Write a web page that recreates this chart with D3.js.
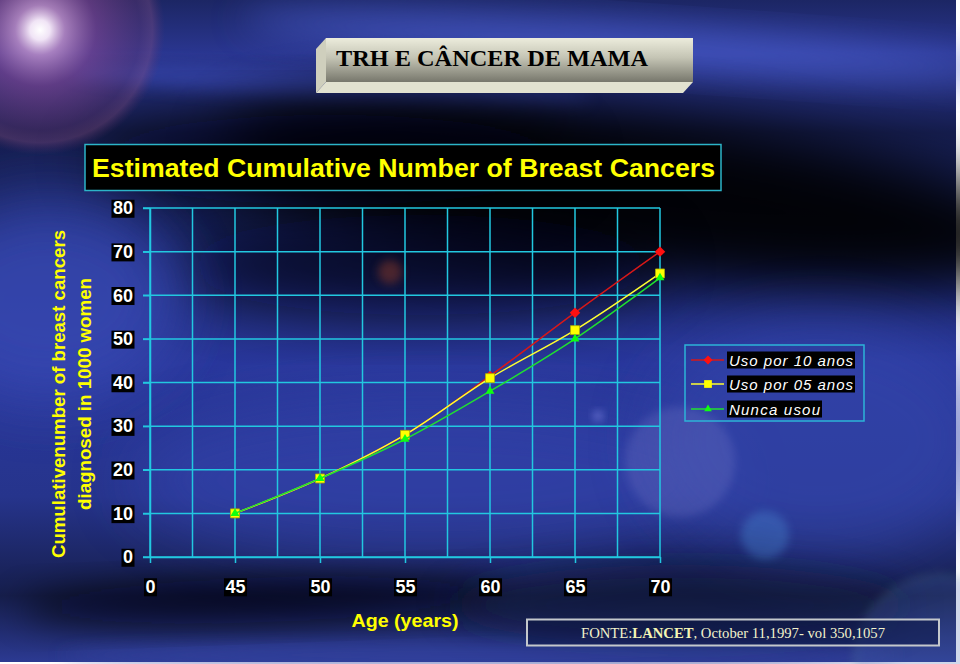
<!DOCTYPE html>
<html>
<head>
<meta charset="utf-8">
<script src="https://cdn.jsdelivr.net/npm/d3@7"></script>
<style>
  body { margin: 0; background: #fff; }
  svg { display: block; }
</style>
</head>
<body>
<div id="chart"></div>
<script>
// data
var ageLabels = ["0", "45", "50", "55", "60", "65", "70"];
var ages = ["45", "50", "55", "60", "65", "70"];
var uso10 = [10, 18, 28, 41.5, 56, 70];
var uso05 = [10, 18, 28, 41, 52, 65];
var nunca = [10, 18, 27, 38, 50, 64];
var seriesNames = ["Uso por 10 anos", "Uso por 05 anos", "Nunca usou"];
var yTicks = [0, 10, 20, 30, 40, 50, 60, 70, 80];

var svgWidth = 960, svgHeight = 664;
var svg = d3.select("#chart").append("svg")
    .attr("width", svgWidth)
    .attr("height", svgHeight);

var defs = svg.append("defs");
[["b30", 30], ["b18", 18], ["b8", 8], ["b4", 4]].forEach(function (f) {
    defs.append("filter").attr("id", f[0])
        .attr("x", "-50%").attr("y", "-50%").attr("width", "200%").attr("height", "200%")
        .append("feGaussianBlur").attr("stdDeviation", f[1]);
});

var bgGrad = defs.append("linearGradient").attr("id", "bg")
    .attr("x1", 0).attr("y1", 0).attr("x2", 0).attr("y2", 1);
[[0, "#1c2664"], [0.08, "#2a3690"], [0.2, "#161e50"], [0.35, "#1a2668"],
 [0.55, "#2a389c"], [0.75, "#26348c"], [0.9, "#161e4c"], [1, "#2c3a92"]]
    .forEach(function (s) { bgGrad.append("stop").attr("offset", s[0]).attr("stop-color", s[1]); });

var flare = defs.append("radialGradient").attr("id", "flare");
[[0, "#ffffff", 1], [0.08, "#fbeefc", 0.95], [0.2, "#d098d0", 0.75],
 [0.45, "#904890", 0.55], [0.8, "#703870", 0.35], [0.9, "#905080", 0.35], [1, "#6a3468", 0]]
    .forEach(function (s) {
        flare.append("stop").attr("offset", s[0]).attr("stop-color", s[1]).attr("stop-opacity", s[2]);
    });

var faceGrad = defs.append("linearGradient").attr("id", "face")
    .attr("x1", 0).attr("y1", 0).attr("x2", 0).attr("y2", 1);
[[0, "#ececdc"], [0.45, "#c4c4b4"], [1, "#77776c"]]
    .forEach(function (s) { faceGrad.append("stop").attr("offset", s[0]).attr("stop-color", s[1]); });

// background picture
var bg = svg.append("g");
bg.append("rect").attr("width", 956).attr("height", 662).attr("fill", "url(#bg)");
var blobs = [
    // cx, cy, rx, ry, rot, colour, opacity, filter
    [620, 45, 380, 22, 4, "#4c5fd0", 0.7, "b18"],
    [330, 85, 260, 14, 3, "#3a4cb8", 0.6, "b8"],
    [640, 195, 420, 80, 7, "#000000", 0.92, "b30"],
    [330, 160, 240, 45, 0, "#02040e", 0.75, "b30"],
    [420, 265, 240, 50, 0, "#02040e", 0.7, "b30"],
    [50, 300, 130, 100, 0, "#3848b4", 0.8, "b30"],
    [430, 480, 300, 80, 0, "#3444b0", 0.6, "b30"],
    [820, 440, 170, 120, 0, "#3646ae", 0.6, "b30"],
    [260, 600, 240, 22, -2, "#04060f", 0.75, "b18"],
    [680, 605, 230, 40, 0, "#0c1232", 0.55, "b18"],
    [480, 655, 420, 12, 0, "#3444a4", 0.6, "b8"]
];
blobs.forEach(function (b) {
    bg.append("ellipse")
        .attr("cx", b[0]).attr("cy", b[1]).attr("rx", b[2]).attr("ry", b[3])
        .attr("transform", "rotate(" + b[4] + "," + b[0] + "," + b[1] + ")")
        .attr("fill", b[5]).attr("opacity", b[6]).attr("filter", "url(#" + b[7] + ")");
});
bg.append("circle").attr("cx", 40).attr("cy", 30).attr("r", 125).attr("fill", "url(#flare)");
bg.append("circle").attr("cx", 680).attr("cy", 462).attr("r", 55)
    .attr("fill", "#8a8ad0").attr("opacity", 0.22).attr("filter", "url(#b4)");
bg.append("circle").attr("cx", 765).attr("cy", 535).attr("r", 24)
    .attr("fill", "#4c8ed8").attr("opacity", 0.35).attr("filter", "url(#b4)");
bg.append("circle").attr("cx", 940).attr("cy", 660).attr("r", 85)
    .attr("fill", "#4a68b0").attr("opacity", 0.25)
    .attr("stroke", "#70b098").attr("stroke-width", 5).attr("stroke-opacity", 0.5)
    .attr("filter", "url(#b4)");
bg.append("circle").attr("cx", 390).attr("cy", 272).attr("r", 12)
    .attr("fill", "#8a3a2a").attr("opacity", 0.5).attr("filter", "url(#b4)");
bg.append("circle").attr("cx", 598).attr("cy", 416).attr("r", 5)
    .attr("fill", "#a0a8ff").attr("opacity", 0.5).attr("filter", "url(#b4)");

// 3D title box
var tb = svg.append("g");
tb.append("polygon").attr("points", "326,38 316,49 316,93 326,82").attr("fill", "#cfcfbd");
tb.append("polygon").attr("points", "326,82 316,93 683,93 693,82").attr("fill", "#e2e2d0");
tb.append("rect").attr("x", 326).attr("y", 38).attr("width", 367).attr("height", 44)
    .attr("fill", "url(#face)");
tb.append("text").attr("x", 336).attr("y", 66)
    .attr("font-family", "Liberation Serif, Times New Roman, serif")
    .attr("font-weight", "bold").attr("font-size", "24px").attr("fill", "#000")
    .attr("textLength", 312).attr("lengthAdjust", "spacingAndGlyphs")
    .text("TRH E CÂNCER DE MAMA");

// chart title
svg.append("rect").attr("x", 85).attr("y", 144.5).attr("width", 636).attr("height", 46)
    .attr("fill", "#000").attr("stroke", "#2cb4c8").attr("stroke-width", 1.5);
svg.append("text").attr("x", 92).attr("y", 177)
    .attr("font-family", "Liberation Sans, Arial, sans-serif")
    .attr("font-weight", "bold").attr("font-size", "25px").attr("fill", "#ffff00")
    .attr("textLength", 623).attr("lengthAdjust", "spacingAndGlyphs")
    .text("Estimated Cumulative Number of Breast Cancers");

// scales
var xScale = d3.scalePoint().domain(ageLabels).range([150, 660]);
var yScale = d3.scaleLinear().domain([0, 80]).range([557, 208]);

var gridColor = "#22c8e0";
var grid = svg.append("g");
var xPos = ageLabels.map(function (a) { return xScale(a); });
var vLines = [];
xPos.forEach(function (p, i) {
    vLines.push(p);
    if (i < xPos.length - 1) vLines.push((p + xPos[i + 1]) / 2);
});
grid.selectAll("line.v").data(vLines).enter().append("line")
    .attr("x1", d => d).attr("x2", d => d)
    .attr("y1", yScale(80)).attr("y2", yScale(0))
    .attr("stroke", gridColor).attr("stroke-width", 1.5);
grid.selectAll("line.h").data(yTicks).enter().append("line")
    .attr("x1", 143).attr("x2", 660)
    .attr("y1", d => yScale(d)).attr("y2", d => yScale(d))
    .attr("stroke", gridColor).attr("stroke-width", 1.5);

// axes
var leftAxis = d3.axisLeft(yScale).tickValues(yTicks).tickSize(7).tickSizeOuter(0).tickPadding(10);
var bottomAxis = d3.axisBottom(xScale).tickSize(6).tickSizeOuter(0).tickPadding(17);

function styleAxis(g) {
    g.select(".domain").attr("stroke", gridColor).attr("stroke-width", 1.5);
    g.selectAll(".tick line").attr("stroke", gridColor).attr("stroke-width", 1.5);
    g.selectAll(".tick text")
        .attr("fill", "#fff")
        .attr("font-family", "Liberation Sans, Arial, sans-serif")
        .attr("font-weight", "bold")
        .attr("font-size", "18px");
    g.selectAll(".tick").each(function () {
        var t = d3.select(this).select("text");
        var bb = t.node().getBBox();
        d3.select(this).insert("rect", "text")
            .attr("x", bb.x - 1.5).attr("y", bb.y + 1.5)
            .attr("width", bb.width + 3).attr("height", bb.height - 2)
            .attr("fill", "#000");
    });
}

svg.append("g").attr("transform", "translate(150,0)").call(leftAxis).call(styleAxis);
svg.append("g").attr("transform", "translate(0,557)").call(bottomAxis).call(styleAxis);

// axis titles
var yTitle = svg.append("text")
    .attr("transform", "translate(65,394) rotate(-90)")
    .attr("text-anchor", "middle")
    .attr("font-family", "Liberation Sans, Arial, sans-serif")
    .attr("font-weight", "bold").attr("font-size", "18.5px").attr("fill", "#ffff00");
yTitle.append("tspan").attr("x", 0).attr("y", 0)
    .attr("textLength", 328).attr("lengthAdjust", "spacingAndGlyphs")
    .text("Cumulativenumber of breast cancers");
yTitle.append("tspan").attr("x", 0).attr("y", 26)
    .attr("textLength", 232).attr("lengthAdjust", "spacingAndGlyphs")
    .text("diagnosed in 1000 women");

svg.append("text").attr("x", 405).attr("y", 627)
    .attr("text-anchor", "middle")
    .attr("font-family", "Liberation Sans, Arial, sans-serif")
    .attr("font-weight", "bold").attr("font-size", "19px").attr("fill", "#ffff00")
    .attr("textLength", 107).attr("lengthAdjust", "spacingAndGlyphs")
    .text("Age (years)");

// series
var series = [
    { name: seriesNames[0], values: uso10, color: "#d81818", marker: "#ff1010", symbol: d3.symbolSquare, size: 55, rot: 45 },
    { name: seriesNames[1], values: uso05, color: "#ffff30", marker: "#ffff00", symbol: d3.symbolSquare, size: 80, rot: 0 },
    { name: seriesNames[2], values: nunca, color: "#20e030", marker: "#10ff10", symbol: d3.symbolTriangle, size: 34, rot: 0 }
];

var line = d3.line()
    .x(d => xScale(d.age))
    .y(d => yScale(d.v))
    .curve(d3.curveCatmullRom.alpha(0.5));

series.forEach(function (s) {
    var pts = ages.map(function (a, i) { return { age: a, v: s.values[i] }; });
    var g = svg.append("g");
    g.append("path").datum(pts)
        .attr("d", line)
        .attr("fill", "none")
        .attr("stroke", s.color)
        .attr("stroke-width", 1.5);
    g.selectAll("path.m").data(pts).enter().append("path")
        .attr("transform", d => "translate(" + xScale(d.age) + "," + yScale(d.v) + ") rotate(" + s.rot + ")")
        .attr("d", d3.symbol().type(s.symbol).size(s.size))
        .attr("fill", s.marker)
        .attr("stroke", s.size === 80 ? "#b0b000" : "none")
        .attr("stroke-width", 0.8);
});

// legend
var legend = svg.append("g");
legend.append("rect").attr("x", 685).attr("y", 345).attr("width", 179).attr("height", 76)
    .attr("fill", "none").attr("stroke", "#2cb4d8").attr("stroke-width", 1.5);
var rowY = [360, 384, 409];
var textW = [124, 124, 91];
series.forEach(function (s, i) {
    var y0 = rowY[i];
    legend.append("line").attr("x1", 691).attr("x2", 724).attr("y1", y0).attr("y2", y0)
        .attr("stroke", s.color).attr("stroke-width", 1.5);
    legend.append("path")
        .attr("transform", "translate(708," + y0 + ") rotate(" + s.rot + ")")
        .attr("d", d3.symbol().type(s.symbol).size(s.size * 0.75))
        .attr("fill", s.marker);
    legend.append("rect")
        .attr("x", 727).attr("y", y0 - 8.5)
        .attr("width", textW[i] + 4).attr("height", 17)
        .attr("fill", "#000");
    legend.append("text").attr("x", 729).attr("y", y0 + 5.5)
        .attr("font-family", "Liberation Sans, Arial, sans-serif")
        .attr("font-style", "italic").attr("font-size", "15px")
        .attr("textLength", textW[i]).attr("lengthAdjust", "spacing")
        .attr("fill", "#fff").text(s.name);
});

// source
svg.append("rect").attr("x", 527).attr("y", 619.5).attr("width", 412).attr("height", 26)
    .attr("fill", "#0a1440").attr("fill-opacity", 0.5)
    .attr("stroke", "#c4c8cc").attr("stroke-width", 2);
var src = svg.append("text").attr("x", 581).attr("y", 638)
    .attr("font-family", "Liberation Serif, Times New Roman, serif")
    .attr("font-size", "15.5px").attr("fill", "#f2f2cc")
    .attr("textLength", 304).attr("lengthAdjust", "spacingAndGlyphs");
src.append("tspan").text("FONTE:");
src.append("tspan").attr("font-weight", "bold").attr("fill", "#f4f4b4").text("LANCET");
src.append("tspan").text(", October 11,1997- vol 350,1057");
</script>
</body>
</html>
